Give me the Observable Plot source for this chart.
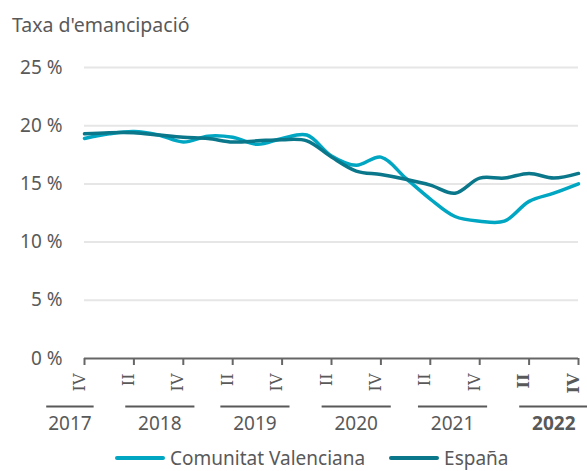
<!DOCTYPE html>
<html>
<head>
<meta charset="utf-8">
<script src="https://cdn.jsdelivr.net/npm/d3@7"></script>
<script src="https://cdn.jsdelivr.net/npm/@observablehq/plot@0.6"></script>
<style>
  body { margin: 0; background: #fff; font-family: "Noto Sans", sans-serif; color: #595959; }
  #wrap { width: 587px; height: 471px; position: relative; overflow: hidden; }
  #title { position: absolute; left: 12px; top: 13px; font-size: 19.5px; line-height: 24px; color: #595959; }
  #chart { position: absolute; left: 0; top: 36px; }
  #legend { position: absolute; left: 0; top: 446px; width: 587px; display: flex; justify-content: flex-start; align-items: center; font-size: 19px; line-height: 24px; color: #595959; padding-left: 115px; box-sizing: border-box; }
  .sw { display: inline-block; width: 50px; height: 4px; margin-right: 5px; border-radius: 2px; }
  .item { display: inline-flex; align-items: center; margin-right: 24px; }
</style>
</head>
<body>
<div id="wrap">
  <div id="title">Taxa d'emancipació</div>
  <div id="chart"></div>
  <div id="legend"></div>
</div>
<script>
// Quarters: 2017 IV .. 2022 IV
const quarters = ["2017 IV","2018 I","2018 II","2018 III","2018 IV","2019 I","2019 II","2019 III","2019 IV",
  "2020 I","2020 II","2020 III","2020 IV","2021 I","2021 II","2021 III","2021 IV","2022 I","2022 II","2022 III","2022 IV"];
const valencia = [18.9, 19.3, 19.5, 19.2, 18.6, 19.1, 19.0, 18.4, 18.9, 19.2, 17.4, 16.6, 17.3, 15.5, 13.7, 12.2, 11.8, 11.8, 13.5, 14.2, 15.0];
const espana   = [19.3, 19.4, 19.4, 19.2, 19.0, 18.9, 18.6, 18.7, 18.8, 18.7, 17.3, 16.1, 15.8, 15.4, 14.9, 14.2, 15.5, 15.5, 15.9, 15.5, 15.9];
const seriesNames = ["Comunitat Valenciana", "España"];
const seriesColors = ["#00A6C2", "#0A778A"];
const yTicks = [0, 5, 10, 15, 20, 25];
const quarterTickLabels = ["IV","II","IV","II","IV","II","IV","II","IV","II","IV"];
const quarterTickIndex  = [0, 2, 4, 6, 8, 10, 12, 14, 16, 18, 20];
const years      = ["2017","2018","2019","2020","2021","2022"];
const yearFirstQ = [-1.55, 1.65, 5.5, 9.6, 13.5, 17.6];
const yearLastQ  = [0.37, 4.45, 8.3, 12.4, 16.3, 20.4];
const highlightYear = "2022";

const data = [];
quarters.forEach((q, i) => {
  data.push({i, q, series: seriesNames[0], value: valencia[i]});
  data.push({i, q, series: seriesNames[1], value: espana[i]});
});
const qTicks = quarterTickIndex.map((i, k) => ({i, label: quarterTickLabels[k], bold: quarters[i].startsWith(highlightYear)}));
const yearData = years.map((y, k) => ({year: y, x1: yearFirstQ[k], x2: yearLastQ[k], xm: (yearFirstQ[k] + yearLastQ[k]) / 2, bold: y === highlightYear}));

const font = "Noto Sans, sans-serif";
const qText = (bold) => Plot.text(qTicks.filter(d => d.bold === bold), {x: "i", frameAnchor: "bottom", text: "label", rotate: -90,
  textAnchor: "end", dy: 15, fontSize: 16, fill: "#595959", fontWeight: bold ? "bold" : "normal", fontFamily: "DejaVu Serif, serif"});
const yText = (bold) => Plot.text(yearData.filter(d => d.bold === bold), {x: "xm", y: () => 0, text: "year", dy: 65, fontSize: 19,
  fill: "#595959", fontWeight: bold ? "bold" : "normal"});

const plot = Plot.plot({
  width: 587,
  height: 400,
  marginLeft: 84,
  marginRight: 9,
  marginTop: 31,
  marginBottom: 78,
  style: {fontFamily: font, fontSize: "19px", color: "#595959", background: "transparent", overflow: "visible"},
  x: {domain: [0, 20], axis: null},
  y: {domain: [0, 25], axis: null},
  color: {domain: seriesNames, range: seriesColors},
  marks: [
    Plot.ruleY(yTicks.filter(d => d > 0), {stroke: "#e6e6e6", strokeWidth: 2}),
    Plot.axisY(yTicks, {label: null, tickSize: 0, tickPadding: 22, tickFormat: d => d + " %", fontSize: 19, fill: "#595959"}),
    Plot.line(data, {x: "i", y: "value", stroke: "series", z: "series", strokeWidth: 3.5, curve: "catmull-rom"}),
    Plot.ruleY([0], {stroke: "#666", strokeWidth: 2}),
    Plot.ruleX(qTicks, {x: "i", y1: () => 0, y2: () => 0, insetBottom: -7, stroke: "#666", strokeWidth: 2}),
    qText(false),
    qText(true),
    Plot.link(yearData, {x1: "x1", x2: "x2", y1: () => 0, y2: () => 0, dy: 48, stroke: "#595959", strokeWidth: 2}),
    yText(false),
    yText(true)
  ]
});
document.getElementById("chart").appendChild(plot);

const legend = document.getElementById("legend");
seriesNames.forEach((name, k) => {
  const item = document.createElement("span");
  item.className = "item";
  const sw = document.createElement("span");
  sw.className = "sw";
  sw.style.background = seriesColors[k];
  item.appendChild(sw);
  item.appendChild(document.createTextNode(name));
  legend.appendChild(item);
});
</script>
</body>
</html>
